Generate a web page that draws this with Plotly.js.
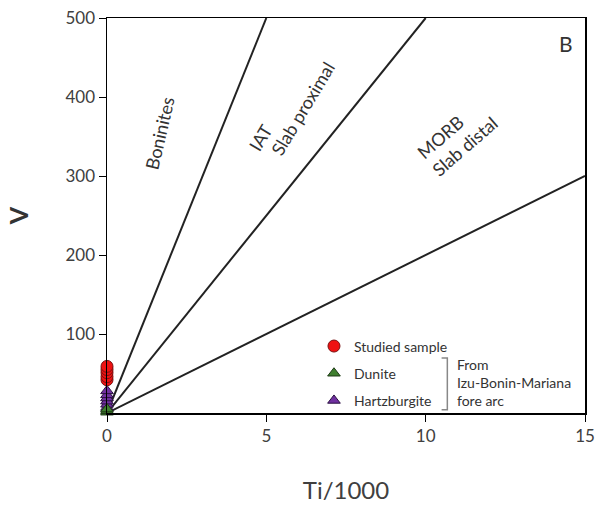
<!DOCTYPE html>
<html><head><meta charset="utf-8">
<script src="https://cdn.plot.ly/plotly-3.0.1.min.js"></script>
<style>body{margin:0;background:#fff}#c{width:595px;height:513px}</style>
</head><body><div id="c"></div>
<script>
// Discrimination line endpoints (Ti/1000, V)
const bonIatX = [0, 5], bonIatY = [0, 500];
const iatMorbX = [0, 10], iatMorbY = [0, 500];
const morbX = [0, 15], morbY = [0, 300];
// Samples
const studiedX = [0, 0, 0, 0, 0];
const studiedY = [42, 46, 51, 55, 59];
const duniteX = [0, 0, 0];
const duniteY = [1, 3, 5];
const harzX = [0, 0, 0, 0, 0, 0];
const harzY = [7, 11, 15, 19, 23, 28];
const xTicks = [0, 5, 10, 15];
const yTicks = [100, 200, 300, 400, 500];

const lineStyle = {color: '#222', width: 2};
const traces = [
  {x: bonIatX, y: bonIatY, mode: 'lines', line: lineStyle, showlegend: false, hoverinfo: 'skip'},
  {x: iatMorbX, y: iatMorbY, mode: 'lines', line: lineStyle, showlegend: false, hoverinfo: 'skip'},
  {x: morbX, y: morbY, mode: 'lines', line: lineStyle, showlegend: false, hoverinfo: 'skip'},
  {x: harzX, y: harzY, mode: 'markers', name: 'Hartzburgite', legendgroup: 'c', legendrank: 3, cliponaxis: false,
   marker: {symbol: 'triangle-up', size: 11, color: '#7030a0', line: {color: '#2a1040', width: 1}}},
  {x: duniteX, y: duniteY, mode: 'markers', name: 'Dunite', legendgroup: 'b', legendrank: 2, cliponaxis: false,
   marker: {symbol: 'triangle-up', size: 11, color: '#3f7f2f', line: {color: '#1e3a16', width: 1}}},
  {x: studiedX, y: studiedY, mode: 'markers', name: 'Studied sample', legendgroup: 'a', legendrank: 1, cliponaxis: false,
   marker: {symbol: 'circle', size: 12, color: '#ee1111', line: {color: '#7a1010', width: 1}}}
];

const txt = '#404040';
const lab = {size: 18, color: '#333'};
const layout = {
  width: 595, height: 513,
  margin: {l: 107, r: 10, t: 18, b: 100},
  paper_bgcolor: '#fff', plot_bgcolor: '#fff',
  font: {family: 'Lato, sans-serif', color: txt},
  xaxis: {range: [0, 15], tickvals: xTicks, ticks: 'outside', ticklen: 7, tickcolor: '#000',
    showline: true, linecolor: '#000', linewidth: 1.5, mirror: true, showgrid: false, zeroline: false,
    tickfont: {size: 17, color: txt},
    title: {text: 'Ti/1000', font: {size: 24, color: txt}, standoff: 37}},
  yaxis: {range: [0, 500], tickvals: yTicks, ticks: 'outside', ticklen: 7, tickcolor: '#000',
    showline: true, linecolor: '#000', linewidth: 1.5, mirror: true, showgrid: false, zeroline: false,
    tickfont: {size: 17, color: txt},
    title: {text: '<b>V</b>', font: {size: 25, color: '#333'}, standoff: 30}},
  showlegend: true,
  legend: {x: 0.433, y: 0.209, xanchor: 'left', yanchor: 'top', traceorder: 'grouped',
    tracegroupgap: 6, bgcolor: 'rgba(0,0,0,0)', font: {size: 14, color: '#333'}, itemwidth: 30},
  shapes: [
    {type: 'path', xref: 'paper', yref: 'paper',
     path: 'M 0.7 0.139 L 0.712 0.139 L 0.712 0.008 L 0.7 0.008', line: {color: '#888', width: 1.5}}
  ],
  annotations: [
    {xref: 'paper', yref: 'paper', x: 0.96, y: 0.935, xanchor: 'center', yanchor: 'middle', text: 'B', showarrow: false, font: {size: 21, color: '#333'}},
    {x: 1.66, y: 354, text: 'Boninites', textangle: -77, showarrow: false, font: lab},
    {x: 4.83, y: 349, text: 'IAT', textangle: -59, showarrow: false, font: lab},
    {x: 6.15, y: 386, text: 'Slab proximal', textangle: -59, showarrow: false, font: lab},
    {x: 10.45, y: 350, text: 'MORB', textangle: -41, showarrow: false, font: lab},
    {x: 11.23, y: 338, text: 'Slab distal', textangle: -41, showarrow: false, font: lab},
    {xref: 'paper', yref: 'paper', x: 0.728, y: 0.15, xanchor: 'left', yanchor: 'top', align: 'left',
     text: 'From<br>Izu-Bonin-Mariana<br>fore arc', showarrow: false, font: {size: 14, color: '#333'}}
  ]
};
Plotly.newPlot('c', traces, layout, {displayModeBar: false, staticPlot: true});
</script></body></html>
